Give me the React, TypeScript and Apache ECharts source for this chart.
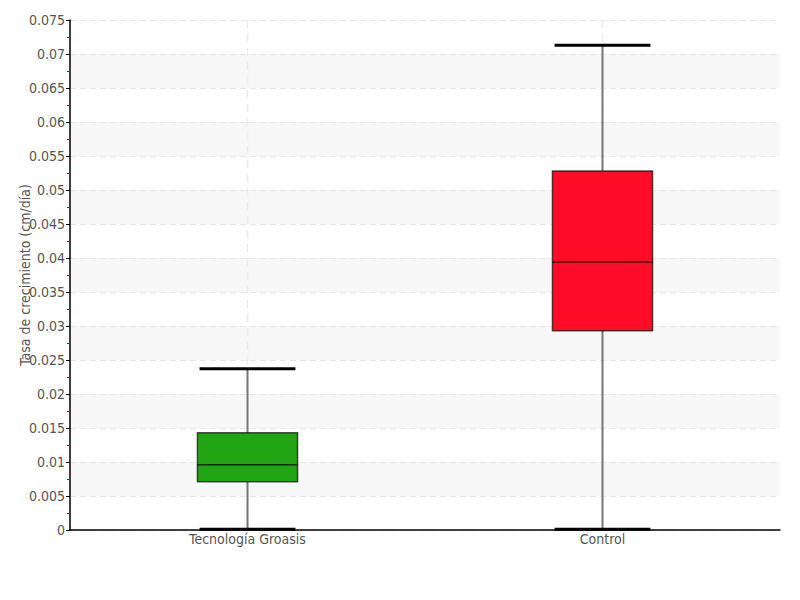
import React, { useEffect, useRef } from "react";
import * as echarts from "echarts";

const categories = ["Tecnología Groasis", "Control"];
const lowValues = [0.0001, 0.0001];
const q1Values = [0.0071, 0.0293];
const medianValues = [0.0096, 0.0394];
const q3Values = [0.0143, 0.0528];
const highValues = [0.0237, 0.0713];
const yTicks = { min: 0, max: 0.075, interval: 0.005 };

const boxColors = ["#22a512", "#ff0d28"];
const FONT = "'Liberation Sans Narrow', 'DejaVu Sans Condensed', sans-serif";

export default function App() {
  const ref = useRef<HTMLDivElement>(null);
  useEffect(() => {
    if (!ref.current) return;
    const chart = echarts.init(ref.current, null, { renderer: "svg" });
    const data = categories.map((c, i) => [i, lowValues[i], q1Values[i], medianValues[i], q3Values[i], highValues[i]]);
    chart.setOption({
      animation: false,
      backgroundColor: "#ffffff",
      textStyle: { fontFamily: FONT },
      grid: { left: 70, right: 20, top: 20, bottom: 70, containLabel: false, outerBoundsMode: "none" },
      xAxis: {
        type: "category",
        data: categories,
        boundaryGap: true,
        axisLine: { show: true, lineStyle: { color: "#000", width: 1.5 } },
        axisTick: { show: false },
        axisLabel: { color: "#555", fontSize: 14, fontFamily: FONT, margin: 2 },
        splitLine: { show: false },
      },
      yAxis: {
        type: "value",
        min: yTicks.min,
        max: yTicks.max,
        interval: yTicks.interval,
        name: "Tasa de crecimiento (cm/día)",
        nameLocation: "middle",
        nameGap: 38,
        nameMoveOverlap: false,
        nameTextStyle: { color: "#555", fontSize: 14, fontFamily: FONT },
        axisLine: { show: true, lineStyle: { color: "#000", width: 1.5 } },
        axisTick: { show: true, length: 4, lineStyle: { color: "#000" } },
        minorTick: { show: true, splitNumber: 2, length: 3, lineStyle: { color: "#e00000" } },
        axisLabel: { color: "#555", fontSize: 14, fontFamily: FONT, margin: 5 },
        splitLine: { show: true, lineStyle: { color: "#e6e6e6", type: [6, 4], width: 1 } },
        splitArea: { show: true, areaStyle: { color: ["rgba(255,255,255,0)", "#f7f7f7"] } },
      },
      series: [
        {
          type: "custom",
          data,
          encode: { x: 0, y: [1, 2, 3, 4, 5] },
          renderItem: (params: any, api: any) => {
            const idx = api.value(0);
            const low = api.value(1);
            const q1 = api.value(2);
            const med = api.value(3);
            const q3 = api.value(4);
            const high = api.value(5);
            const cs = params.coordSys;
            const band = api.size([1, 0])[0];
            const boxW = band * 0.282;
            const capW = band * 0.27;
            const [cx, yLow] = api.coord([idx, low]);
            const yQ1 = api.coord([idx, q1])[1];
            const yMed = api.coord([idx, med])[1];
            const yQ3 = api.coord([idx, q3])[1];
            const yHigh = api.coord([idx, high])[1];
            const color = boxColors[params.dataIndex % boxColors.length];
            return {
              type: "group",
              children: [
                {
                  type: "line",
                  shape: { x1: cx, y1: cs.y, x2: cx, y2: cs.y + cs.height },
                  style: { stroke: "#ebebeb", lineWidth: 1.5, lineDash: [8, 6] },
                  z2: 0,
                },
                {
                  type: "line",
                  shape: { x1: cx, y1: yHigh, x2: cx, y2: yQ3 },
                  style: { stroke: "#777", lineWidth: 2 },
                  z2: 1,
                },
                {
                  type: "line",
                  shape: { x1: cx, y1: yQ1, x2: cx, y2: yLow },
                  style: { stroke: "#777", lineWidth: 2 },
                  z2: 1,
                },
                {
                  type: "rect",
                  shape: { x: cx - boxW / 2, y: yQ3, width: boxW, height: yQ1 - yQ3 },
                  style: { fill: color, stroke: "rgba(0,0,0,0.65)", lineWidth: 1.5 },
                  z2: 2,
                },
                {
                  type: "line",
                  shape: { x1: cx - boxW / 2, y1: yMed, x2: cx + boxW / 2, y2: yMed },
                  style: { stroke: "rgba(0,0,0,0.75)", lineWidth: 1.5 },
                  z2: 3,
                },
                {
                  type: "line",
                  shape: { x1: cx - capW / 2, y1: yHigh, x2: cx + capW / 2, y2: yHigh },
                  style: { stroke: "#000", lineWidth: 3 },
                  z2: 4,
                },
                {
                  type: "line",
                  shape: { x1: cx - capW / 2, y1: yLow, x2: cx + capW / 2, y2: yLow },
                  style: { stroke: "#000", lineWidth: 3 },
                  z2: 4,
                },
              ],
            };
          },
        },
      ],
    });
    return () => chart.dispose();
  }, []);
  return <div ref={ref} style={{ width: 800, height: 600, position: "absolute", left: 0, top: 0 }} />;
}
